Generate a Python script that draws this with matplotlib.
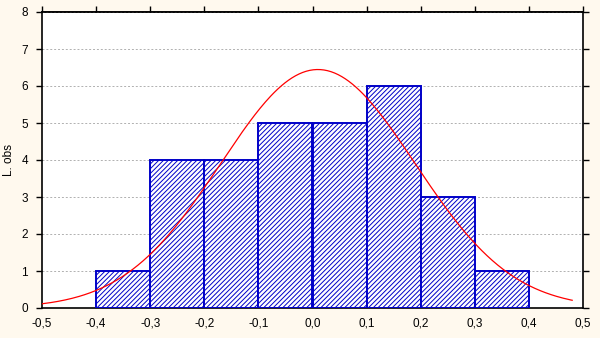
import numpy as np
import matplotlib
matplotlib.use("Agg")
import matplotlib.pyplot as plt

plt.rcParams['font.family'] = ['Liberation Sans', 'DejaVu Sans']
plt.rcParams['hatch.linewidth'] = 0.7

bin_left = [-0.4, -0.3, -0.2, -0.1, 0.0, 0.1, 0.2, 0.3]
counts = [1, 4, 4, 5, 5, 6, 3, 1]
bin_width = 0.1
fit_mean = 0.01
fit_sd = 0.1795
curve_range = (-0.5, 0.48)
xticks = [-0.5, -0.4, -0.3, -0.2, -0.1, 0.0, 0.1, 0.2, 0.3, 0.4, 0.5]
xticklabels = ["-0,5", "-0,4", "-0,3", "-0,2", "-0,1", "0,0", "0,1", "0,2", "0,3", "0,4", "0,5"]
yticks = [0, 1, 2, 3, 4, 5, 6, 7, 8]

bg = '#FFF9EE'
fig = plt.figure(figsize=(6, 3.38), dpi=100, facecolor=bg)
ax = fig.add_axes([42/600, 30/338, (583-42)/600, (308-12)/338])
ax.set_facecolor('white')

blue = '#0000C8'
ax.bar(bin_left, counts, width=bin_width, align='edge', facecolor='white',
       edgecolor=blue, hatch='///////', linewidth=1.4, zorder=3)

n = sum(counts)
xs = np.linspace(curve_range[0], curve_range[1], 300)
ys = n * bin_width / (fit_sd * np.sqrt(2*np.pi)) * np.exp(-0.5*((xs-fit_mean)/fit_sd)**2)
ax.plot(xs, ys, color='red', linewidth=0.9, zorder=4)

ax.set_xlim(-0.5, 0.5)
ax.set_ylim(0, 8)
ax.set_xticks(xticks)
ax.set_xticklabels(xticklabels)
ax.set_yticks(yticks)
ax.grid(axis='y', color='#B0B0B0', linestyle=(0, (2, 2)), linewidth=0.7, zorder=0)
ax.set_axisbelow(True)
for s in ax.spines.values():
    s.set_linewidth(1.2)
    s.set_color('black')
ax.tick_params(axis='y', direction='out', length=4, width=1, labelsize=8.5, pad=6,
               right=True, left=True)
ax.tick_params(axis='x', direction='out', length=0, labelsize=8.5, pad=7)
secx = ax.secondary_xaxis('top')
secx.set_xticks(xticks)
secx.set_xticklabels([])
secx.tick_params(direction='out', length=4, width=1)
secx.spines['top'].set_linewidth(1.2)
ax.set_ylabel('L. obs', fontsize=8.5)
ax.yaxis.set_label_coords(-27/541, 0.5)

fig.savefig('out.png', dpi=100, facecolor=bg)
